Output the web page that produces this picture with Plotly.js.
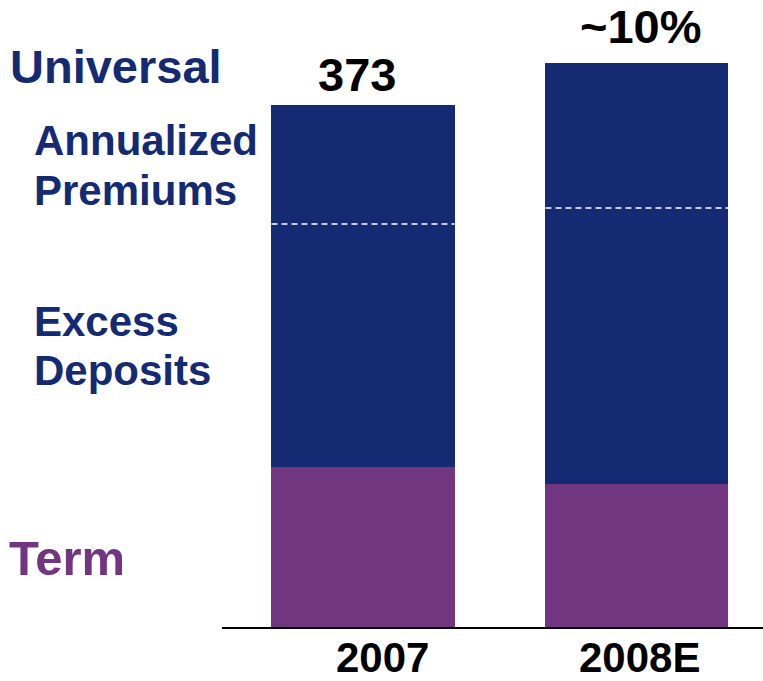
<!DOCTYPE html>
<html>
<head>
<meta charset="utf-8">
<script src="https://cdn.plot.ly/plotly-3.0.1.min.js"></script>
<style>html,body{margin:0;padding:0;background:#fff;}#chart{width:763px;height:681px;}</style>
</head>
<body>
<div id="chart"></div>
<script>
// Data
var years = ['2007', '2008E'];
var termValues = [114.3, 102.2];
var excessDeposits = [173.6, 197.2];
var annualizedPremiums = [85.0, 103.6];
var topLabels = ['373', '~10%'];

var navy = '#142a73';
var purple = '#72357f';
var font = 'Liberation Sans, Arial, sans-serif';
var xs = years.map(function (_, i) { return i; });
var barWidth = 0.668;

var traces = [
  {type: 'bar', x: xs, y: termValues, width: barWidth, marker: {color: purple}, hoverinfo: 'skip'},
  {type: 'bar', x: xs, y: excessDeposits, width: barWidth, marker: {color: navy}, hoverinfo: 'skip'},
  {type: 'bar', x: xs, y: annualizedPremiums, width: barWidth, marker: {color: navy}, hoverinfo: 'skip'}
];

// dashed separator between excess deposits and annualized premiums
var dx = [], dy = [];
xs.forEach(function (x, i) {
  var yv = termValues[i] + excessDeposits[i];
  dx.push(x - barWidth / 2, x + barWidth / 2, null);
  dy.push(yv, yv, null);
});
traces.push({type: 'scatter', mode: 'lines', x: dx, y: dy, line: {color: '#ffffff', width: 1.5, dash: '6px,4px'}, hoverinfo: 'skip'});

var totals = xs.map(function (_, i) { return termValues[i] + excessDeposits[i] + annualizedPremiums[i]; });

var annotations = [];
var labelShift = [[-6, 2], [4, 8]];
xs.forEach(function (x, i) {
  annotations.push({x: x, y: totals[i], xref: 'x', yref: 'y', text: topLabels[i], showarrow: false,
    xanchor: 'center', yanchor: 'bottom', xshift: labelShift[i][0], yshift: labelShift[i][1],
    font: {family: font, size: 47, color: '#000', weight: 'bold'}});
});
function px(xp) { return (xp - 222) / 541; }
function py(yp) { return (627 - yp) / 607; }
var tickShift = [20, 3];
xs.forEach(function (x, i) {
  annotations.push({x: x, y: py(681), xref: 'x', yref: 'paper', text: years[i], showarrow: false,
    xanchor: 'center', yanchor: 'bottom', xshift: tickShift[i], yshift: -2,
    font: {family: font, size: 42, color: '#000', weight: 'bold'}});
});
function sideLabel(text, x, baseline, size, color) {
  annotations.push({x: px(x), y: py(baseline - 0.31 * size), xref: 'paper', yref: 'paper', text: text, showarrow: false,
    xanchor: 'left', yanchor: 'middle', align: 'left', font: {family: font, size: size, color: color, weight: 'bold'}});
}
annotations.push({x: px(8), y: py(66), xref: 'paper', yref: 'paper', text: 'Universal', showarrow: false,
  xanchor: 'left', yanchor: 'middle', align: 'left', font: {family: font, size: 47, color: navy, weight: 'bold'}});
sideLabel('Annualized', 32, 154, 42, navy);
sideLabel('Premiums', 32, 204, 42, navy);
sideLabel('Excess', 32, 335, 42, navy);
sideLabel('Deposits', 32, 384, 42, navy);
sideLabel('Term', 7, 573, 49, purple);

var layout = {
  width: 763, height: 681,
  margin: {l: 222, r: 0, t: 20, b: 54},
  paper_bgcolor: '#ffffff', plot_bgcolor: '#ffffff',
  barmode: 'stack',
  showlegend: false,
  xaxis: {range: [-0.5146, 1.46], showgrid: false, zeroline: false, showticklabels: false, ticks: '',
    showline: true, linecolor: '#000000', linewidth: 2, fixedrange: true},
  yaxis: {range: [0, 433.7], showgrid: false, zeroline: false, showticklabels: false, ticks: '', showline: false, fixedrange: true},
  annotations: annotations
};

Plotly.newPlot('chart', traces, layout, {displayModeBar: false, staticPlot: true});
</script>
</body>
</html>
